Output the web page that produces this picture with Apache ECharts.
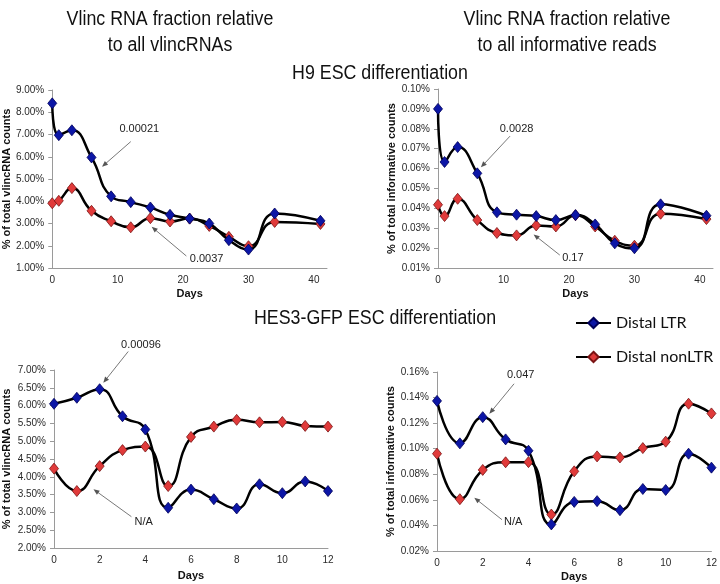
<!DOCTYPE html>
<html>
<head>
<meta charset="utf-8">
<script src="https://cdn.jsdelivr.net/npm/echarts@6/dist/echarts.min.js"></script>
<style>
  html, body { margin: 0; padding: 0; background: #fff; }
  #chart { width: 720px; height: 584px; }
</style>
</head>
<body>
<div id="chart"></div>
<script>
// sampling days of the two time courses
const h9Days = [0, 1, 3, 6, 9, 12, 15, 18, 21, 24, 27, 30, 34, 41]
const hes3Days = [0, 1, 2, 3, 4, 5, 6, 7, 8, 9, 10, 11, 12]

// % of total vlincRNA counts
const h9VlincLTR = [8.40, 6.97, 7.19, 5.97, 4.22, 3.96, 3.72, 3.39, 3.22, 3.00, 2.25, 1.83, 3.45, 3.12]
const h9VlincNonLTR = [3.91, 4.02, 4.59, 3.57, 3.10, 2.83, 3.24, 3.09, 3.22, 2.89, 2.40, 1.98, 3.07, 2.98]
const hes3VlincLTR = [6.05, 6.22, 6.46, 5.70, 5.33, 3.13, 3.64, 3.37, 3.11, 3.79, 3.54, 3.87, 3.60]
const hes3VlincNonLTR = [4.23, 3.60, 4.30, 4.75, 4.85, 3.74, 5.12, 5.41, 5.60, 5.53, 5.54, 5.43, 5.41]

// % of total informative counts
const h9InfoLTR = [0.0900, 0.0633, 0.0708, 0.0576, 0.0380, 0.0368, 0.0361, 0.0341, 0.0366, 0.0319, 0.0224, 0.0199, 0.0420, 0.0363]
const h9InfoNonLTR = [0.0418, 0.0361, 0.0448, 0.0341, 0.0276, 0.0264, 0.0314, 0.0309, 0.0365, 0.0309, 0.0237, 0.0212, 0.0373, 0.0346]
const hes3InfoLTR = [0.1374, 0.1042, 0.1247, 0.1073, 0.0984, 0.0408, 0.0584, 0.0590, 0.0519, 0.0685, 0.0677, 0.0961, 0.0852]
const hes3InfoNonLTR = [0.0961, 0.0605, 0.0834, 0.0894, 0.0895, 0.0485, 0.0823, 0.0940, 0.0932, 0.1005, 0.1055, 0.1352, 0.1276]

const seriesNames = ['Distal LTR', 'Distal nonLTR']
const yNames = ['% of total vlincRNA counts', '% of total informative counts']
const xName = 'Days'

// p-values: [panel, text, text pos, arrow start, arrow tip] in data units
const annotations = [
  [0, '0.00021', [13.3, 7.26], [12.0, 6.68], [7.6, 5.55]],
  [0, '0.0037', [23.6, 1.41], [20.5, 1.54], [15.2, 2.85]],
  [1, '0.0028', [12.0, 0.0798], [11.0, 0.0763], [6.55, 0.0606]],
  [1, '0.17', [20.6, 0.0152], [18.6, 0.0165], [14.6, 0.0269]],
  [2, '0.00096', [3.81, 7.71], [3.25, 7.52], [2.16, 6.64]],
  [2, 'N/A', [3.93, 2.74], [3.39, 2.88], [1.73, 3.65]],
  [3, '0.047', [3.66, 0.1573], [3.37, 0.1508], [2.29, 0.1273]],
  [3, 'N/A', [3.33, 0.0427], [2.84, 0.0445], [1.63, 0.0617]],
]

const FONT = "'Liberation Sans', Arial, sans-serif"

const panelData = [
  [h9Days, h9VlincLTR, h9VlincNonLTR],
  [h9Days, h9InfoLTR, h9InfoNonLTR],
  [hes3Days, hes3VlincLTR, hes3VlincNonLTR],
  [hes3Days, hes3InfoLTR, hes3InfoNonLTR],
]

const grids = [
  { left: 50, top: 90, width: 277, height: 178 },
  { left: 438, top: 89, width: 275, height: 179 },
  { left: 50, top: 370, width: 278, height: 178 },
  { left: 437, top: 372, width: 277, height: 179 },
]

const yRanges = [
  { min: 1, max: 9, interval: 1, nameGap: 40 },
  { min: 0.01, max: 0.1, interval: 0.01, nameGap: 41 },
  { min: 2, max: 7, interval: 0.5, nameGap: 42 },
  { min: 0.02, max: 0.16, interval: 0.02, nameGap: 40 },
]

const xRanges = [
  { max: 42, interval: 10, nameGap: 20 },
  { max: 42, interval: 10, nameGap: 20 },
  { max: 12, interval: 2, nameGap: 22 },
  { max: 12, interval: 2, nameGap: 20 },
]

const markerColors = [
  { color: '#0c16a6', borderColor: '#00005a' },
  { color: '#e03a3a', borderColor: '#7a1414' },
]

const axisLine = { show: true, onZero: false, lineStyle: { color: '#9a9a9a', width: 1 } }
const labelStyle = { fontFamily: FONT, fontSize: 10, color: '#2a2a2a' }
const nameStyle = { fontFamily: FONT, fontSize: 11, fontWeight: 'bold', color: '#111' }

const series = []
panelData.forEach((pd, p) => {
  const days = pd[0]
  for (let s = 0; s < 2; s++) {
    series.push({
      name: seriesNames[s],
      type: 'line',
      xAxisIndex: p,
      yAxisIndex: p,
      data: days.map((d, i) => [d, pd[s + 1][i]]),
      smooth: 0.5,
      clip: false,
      symbol: 'diamond',
      symbolSize: [9, 11],
      lineStyle: { color: '#000', width: 2.5 },
      itemStyle: { color: markerColors[s].color, borderColor: markerColors[s].borderColor, borderWidth: 0.8 },
      z: s === 0 ? 3 : 2,
    })
  }
})

const chart = echarts.init(document.getElementById('chart'), null, { renderer: 'canvas' })

chart.setOption({
  animation: false,
  backgroundColor: '#fff',
  grid: grids,
  xAxis: xRanges.map((r, p) => ({
    type: 'value',
    gridIndex: p,
    min: 0,
    max: r.max,
    interval: r.interval,
    name: xName,
    nameLocation: 'middle',
    nameGap: r.nameGap,
    nameTextStyle: nameStyle,
    axisLine: axisLine,
    axisTick: { show: false },
    splitLine: { show: false },
    axisLabel: Object.assign({ margin: 7, showMaxLabel: r.max % r.interval === 0 }, labelStyle),
  })),
  yAxis: yRanges.map((r, p) => ({
    type: 'value',
    gridIndex: p,
    min: r.min,
    max: r.max,
    interval: r.interval,
    name: yNames[p % 2],
    nameLocation: 'middle',
    nameRotate: 90,
    nameGap: r.nameGap,
    nameTextStyle: nameStyle,
    axisLine: axisLine,
    axisTick: { show: true, length: 4, lineStyle: { color: '#9a9a9a' } },
    splitLine: { show: false },
    axisLabel: Object.assign({ margin: 8, formatter: (v) => v.toFixed(2) + '%' }, labelStyle),
  })),
  legend: {
    data: seriesNames,
    orient: 'vertical',
    left: 570,
    top: 310,
    itemWidth: 35,
    itemHeight: 13,
    itemGap: 18,
    textStyle: { fontFamily: "Lato, 'Open Sans', sans-serif", fontSize: 16, color: '#111' },
  },
  series: series,
})

// titles + p-value arrows, placed through the axes
const titleFont = '20px ' + FONT
function title(x, y, text) {
  return {
    type: 'text', x: x, y: y, scaleX: 0.89,
    style: { x: 0, y: 0, text: text, font: titleFont, fill: '#111', textAlign: 'center', textVerticalAlign: 'middle', lineHeight: 26 },
  }
}
const graphics = [
  title(170, 32, 'Vlinc RNA fraction relative\nto all vlincRNAs'),
  title(567, 32, 'Vlinc RNA fraction relative\nto all informative reads'),
  title(380, 73, 'H9 ESC differentiation'),
  title(375, 318, 'HES3-GFP ESC differentiation'),
]

annotations.forEach(([p, text, at, from, to]) => {
  const t = chart.convertToPixel({ gridIndex: p }, at)
  const a = chart.convertToPixel({ gridIndex: p }, from)
  const b = chart.convertToPixel({ gridIndex: p }, to)
  const dx = b[0] - a[0], dy = b[1] - a[1]
  const len = Math.sqrt(dx * dx + dy * dy)
  const ux = dx / len, uy = dy / len
  const hl = 6, hw = 2.5
  graphics.push({ type: 'text', z: 10, style: { x: t[0], y: t[1], text: text, font: '11px ' + FONT, fill: '#222', textAlign: 'center', textVerticalAlign: 'middle' } })
  graphics.push({ type: 'line', z: 10, shape: { x1: a[0], y1: a[1], x2: b[0] - ux * 3, y2: b[1] - uy * 3 }, style: { stroke: '#555', lineWidth: 0.8 } })
  graphics.push({
    type: 'polygon', z: 10,
    shape: { points: [b, [b[0] - ux * hl - uy * hw, b[1] - uy * hl + ux * hw], [b[0] - ux * hl + uy * hw, b[1] - uy * hl - ux * hw]] },
    style: { fill: '#555' },
  })
})

chart.setOption({ graphic: graphics })
</script>
</body>
</html>
